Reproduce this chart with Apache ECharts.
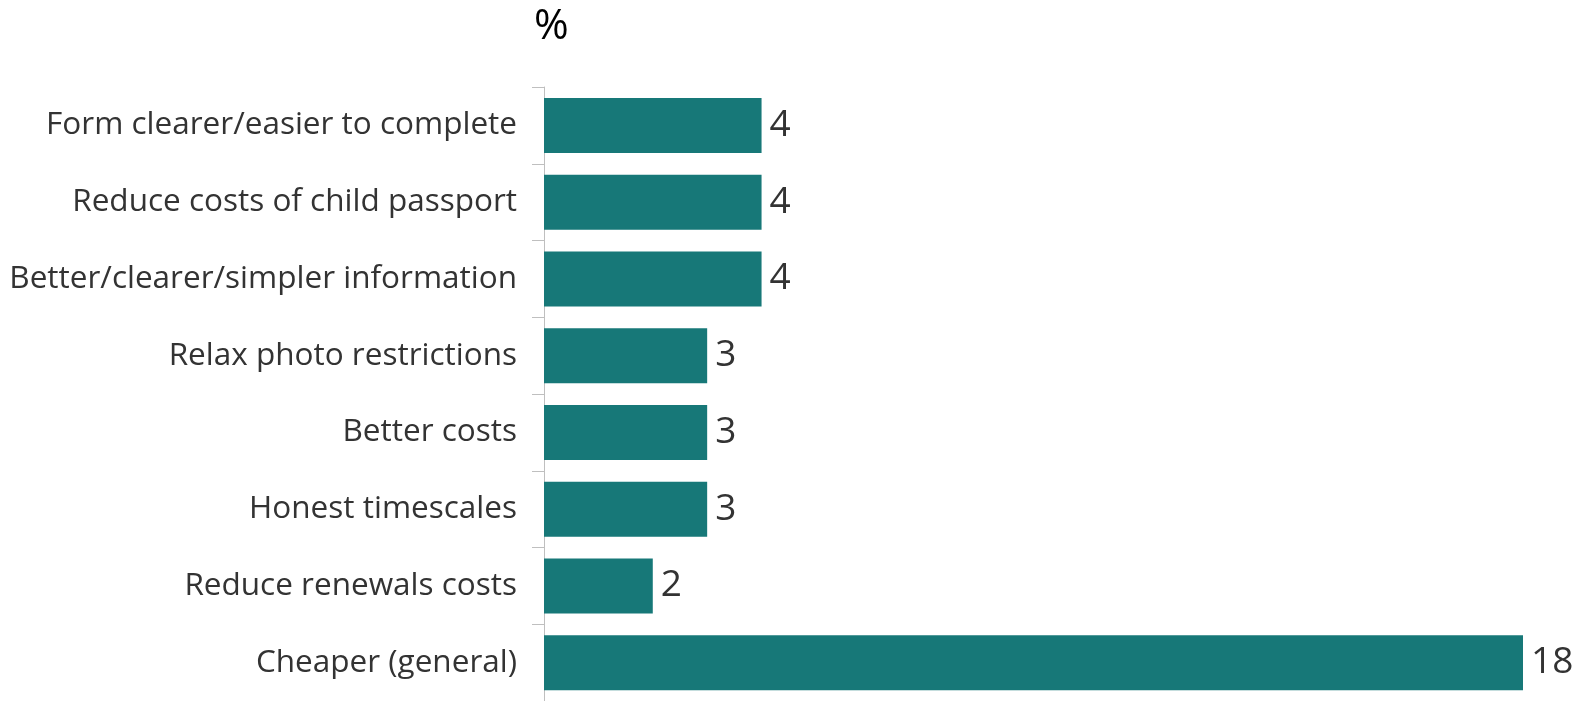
<!DOCTYPE html>
<html><head><meta charset="utf-8">
<script src="https://cdn.jsdelivr.net/npm/echarts@6/dist/echarts.min.js"></script>
<style>html,body{margin:0;padding:0;background:#fff}#c{width:1579px;height:701px}</style>
</head><body><div id="c"></div>
<script>
const categories = ["Form clearer/easier to complete","Reduce costs of child passport","Better/clearer/simpler information","Relax photo restrictions","Better costs","Honest timescales","Reduce renewals costs","Cheaper (general)"];
const values = [4,4,4,3,3,3,2,18];
const unitLabel = "%";

const chart = echarts.init(document.getElementById('c'), null, {renderer:'canvas'});
chart.setOption({
  animation:false,
  graphic:[{type:'text', left:534, top:6, style:{text:unitLabel, font:'42px "Open Sans"', fill:'#000'}}],
  grid:{left:544, width:979, top:87, height:618, containLabel:false},
  xAxis:{type:'value', min:0, max:18, show:false},
  yAxis:{type:'category', data:categories, inverse:true,
    axisLine:{show:true, lineStyle:{color:'#bfbfbf', width:1}},
    axisTick:{show:true, length:12, lineStyle:{color:'#bfbfbf'}},
    axisLabel:{margin:27, fontFamily:'Open Sans', fontSize:31.5, color:'#333'}},
  series:[{type:'bar', data:values, barWidth:55, itemStyle:{color:'#177878'},
    label:{show:true, position:'right', distance:8, fontFamily:'Open Sans', fontSize:37, color:'#333'}}]
});
</script></body></html>
